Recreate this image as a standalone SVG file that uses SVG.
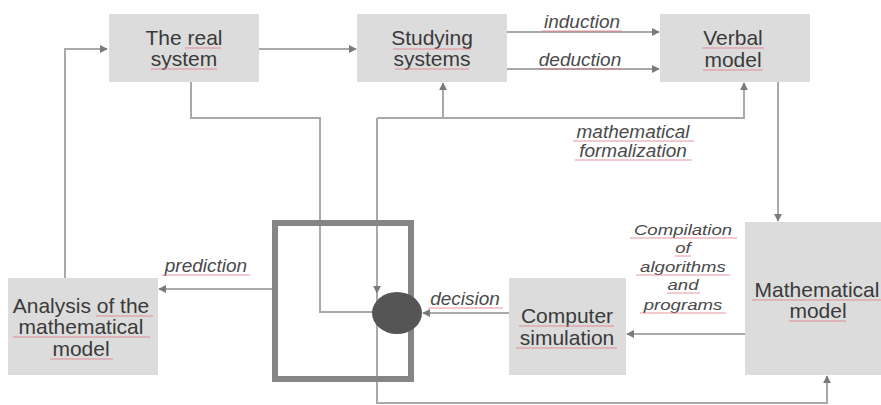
<svg xmlns="http://www.w3.org/2000/svg" width="881" height="405" viewBox="0 0 881 405">
<style>
.box{fill:#dcdcdc;stroke:none}
.bt{font-family:"Liberation Sans",Arial,sans-serif;font-size:21px;fill:#3a3a3a;text-anchor:middle}
.lb{font-family:"Liberation Sans",Arial,sans-serif;font-size:19px;font-style:italic;fill:#4a4a4a;text-anchor:middle}
.lbs{font-family:"Liberation Sans",Arial,sans-serif;font-size:15.5px;font-style:italic;fill:#4a4a4a;text-anchor:middle}
.cn{fill:none;stroke:#a9a9a9;stroke-width:2}
.ul{stroke:#e27a86;stroke-width:1;opacity:0.8}
</style>
<defs>
<marker id="ah" viewBox="0 0 10 10" refX="9" refY="5" markerWidth="4" markerHeight="4" orient="auto" markerUnits="strokeWidth">
<path d="M0,0 L10,5 L0,10 z" fill="#7a7a7a"/>
</marker>
</defs>
<rect width="881" height="405" fill="#ffffff"/>
<g id="connectors">
<path class="cn" d="M65,278 V49 H107" marker-end="url(#ah)"/>
<path class="cn" d="M259,49 H356" marker-end="url(#ah)"/>
<path class="cn" d="M507,32 H659" marker-end="url(#ah)"/>
<path class="cn" d="M507,69 H659" marker-end="url(#ah)"/>
<path class="cn" d="M778,82 V221" marker-end="url(#ah)"/>
<path class="cn" d="M745,334 H627" marker-end="url(#ah)"/>
<path class="cn" d="M509,313 H423" marker-end="url(#ah)"/>
<path class="cn" d="M272,289 H159" marker-end="url(#ah)"/>
<path class="cn" d="M191,82 V118 H320 V312 H374"/>
<path class="cn" d="M377,118 H744 V83" marker-end="url(#ah)"/>
<path class="cn" d="M443,118 V83" marker-end="url(#ah)"/>
<path class="cn" d="M377,118 V293" marker-end="url(#ah)"/>
<path class="cn" d="M377,293 V403 H827 V376" marker-end="url(#ah)"/>
</g>
<g id="node-square">
<rect x="275" y="223" width="136" height="156" fill="none" stroke="#858585" stroke-width="6"/>
</g>
<g id="node-decision-point">
<ellipse cx="397" cy="313" rx="25" ry="21" fill="#555555"/>
</g>
<g id="node-real-system">
<rect class="box" x="109" y="14" width="150" height="68"/>
<text class="bt" x="184" y="45">The real</text>
<text class="bt" x="184" y="66">system</text>
<line class="ul" x1="185" y1="48" x2="221" y2="48"/>
<line class="ul" x1="151" y1="69" x2="217" y2="69"/>
</g>
<g id="node-studying-systems">
<rect class="box" x="357" y="14" width="150" height="68"/>
<text class="bt" x="432" y="45">Studying</text>
<text class="bt" x="432" y="66">systems</text>
<line class="ul" x1="393" y1="49" x2="471" y2="49"/>
<line class="ul" x1="395" y1="69" x2="469" y2="69"/>
</g>
<g id="node-verbal-model">
<rect class="box" x="660" y="14" width="150" height="68"/>
<text class="bt" x="733" y="45">Verbal</text>
<text class="bt" x="733" y="67">model</text>
<line class="ul" x1="702" y1="48" x2="764" y2="48"/>
<line class="ul" x1="703" y1="70" x2="763" y2="70"/>
</g>
<g id="node-mathematical-model">
<rect class="box" x="745" y="222" width="136" height="153"/>
<text class="bt" x="817" y="297">Mathematical</text>
<text class="bt" x="818" y="318">model</text>
<line class="ul" x1="752" y1="300" x2="881" y2="300"/>
<line class="ul" x1="789" y1="321" x2="846" y2="321"/>
</g>
<g id="node-computer-simulation">
<rect class="box" x="509" y="278" width="117" height="97"/>
<text class="bt" x="567" y="323">Computer</text>
<text class="bt" x="567" y="345">simulation</text>
<line class="ul" x1="519" y1="326" x2="614" y2="326"/>
<line class="ul" x1="516" y1="348" x2="617" y2="348"/>
</g>
<g id="node-analysis">
<rect class="box" x="8" y="278" width="150" height="97"/>
<text class="bt" x="81" y="313">Analysis of the</text>
<text class="bt" x="81" y="334">mathematical</text>
<text class="bt" x="81" y="356">model</text>
<line class="ul" x1="96" y1="316" x2="153" y2="316"/>
<line class="ul" x1="13" y1="337" x2="150" y2="337"/>
<line class="ul" x1="50" y1="359" x2="113" y2="359"/>
</g>
<g id="labels">
<text class="lb" x="582" y="28">induction</text>
<line class="ul" x1="542" y1="31" x2="622" y2="31"/>
<text class="lb" x="580" y="66">deduction</text>
<line class="ul" x1="538" y1="69" x2="622" y2="69"/>
<text class="lb" x="633" y="138">mathematical</text>
<line class="ul" x1="573" y1="141" x2="694" y2="141"/>
<text class="lb" x="633" y="157">formalization</text>
<line class="ul" x1="575" y1="160" x2="692" y2="160"/>
<g transform="translate(683,0) scale(1.2,1)">
<text class="lbs" x="0" y="235">Compilation</text>
<text class="lbs" x="0" y="253">of</text>
<text class="lbs" x="0" y="272">algorithms</text>
<text class="lbs" x="0" y="290">and</text>
<text class="lbs" x="0" y="310">programs</text>
</g>
<line class="ul" x1="630" y1="238" x2="737" y2="238"/>
<line class="ul" x1="675" y1="256" x2="691" y2="256"/>
<line class="ul" x1="636" y1="275" x2="730" y2="275"/>
<line class="ul" x1="667" y1="293" x2="700" y2="293"/>
<line class="ul" x1="640" y1="313" x2="726" y2="313"/>
<text class="lb" x="465" y="305">decision</text>
<line class="ul" x1="428" y1="308" x2="503" y2="308"/>
<text class="lb" x="206" y="272">prediction</text>
<line class="ul" x1="162" y1="275" x2="250" y2="275"/>
</g>
</svg>
